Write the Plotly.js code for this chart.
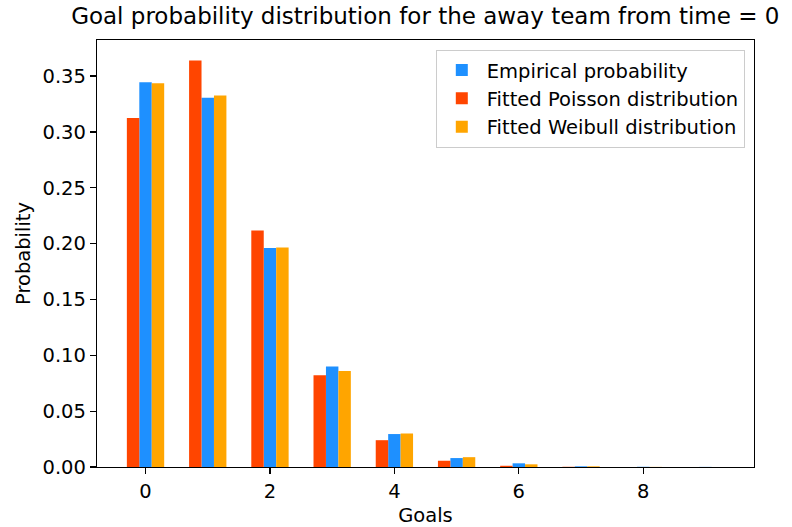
<!DOCTYPE html>
<html>
<head>
<meta charset="utf-8">
<script src="https://cdn.plot.ly/plotly-3.0.1.min.js"></script>
<style>
  html, body { margin: 0; padding: 0; background: #ffffff; }
  #chart { width: 792px; height: 527px; }
</style>
</head>
<body>
<div id="chart"></div>
<script>
// Number of goals scored by the away team
const goals = [0, 1, 2, 3, 4, 5, 6, 7, 8, 9];

// Observed frequency of each goal count
const empirical = [0.3445, 0.3305, 0.1960, 0.0900, 0.0295, 0.0080, 0.0033, 0.0006, 0.0002, 0.0001];

// Poisson model fitted to the same data
const poisson = [0.3124, 0.3640, 0.2118, 0.0822, 0.0240, 0.0056, 0.0011, 0.0002, 0.0000, 0.0000];

// Weibull count model fitted to the same data
const weibull = [0.3435, 0.3325, 0.1965, 0.0860, 0.0300, 0.0088, 0.0024, 0.0006, 0.0001, 0.0000];

const yTicks = [0, 0.05, 0.10, 0.15, 0.20, 0.25, 0.30, 0.35];
const xTicks = [0, 2, 4, 6, 8];

const font = "DejaVu Sans, Verdana, sans-serif";

function barTrace(name, values, color, offset) {
  return {
    type: "bar",
    name: name,
    x: goals,
    y: values,
    width: 0.2,
    offset: offset,
    marker: { color: color, line: { width: 0 } },
    hoverinfo: "x+y+name"
  };
}

const data = [
  barTrace("Empirical probability", empirical, "#1e90ff", -0.1),
  barTrace("Fitted Poisson distribution", poisson, "#ff4500", -0.3),
  barTrace("Fitted Weibull distribution", weibull, "#ffa500", 0.1)
];

const axisFont = { family: font, size: 19.5, color: "#000000" };

const layout = {
  width: 792,
  height: 527,
  margin: { l: 97, r: 38, t: 40, b: 60 },
  paper_bgcolor: "#ffffff",
  plot_bgcolor: "#ffffff",
  barmode: "overlay",
  font: axisFont,
  title: {
    text: "Goal probability distribution for the away team from time = 0",
    font: { family: font, size: 23, color: "#000000" },
    x: 0.537,
    xanchor: "center",
    y: 0.985,
    yanchor: "top"
  },
  xaxis: {
    range: [-0.78, 9.78],
    tickmode: "array",
    tickvals: xTicks,
    ticktext: xTicks.map(String),
    ticks: "outside",
    ticklen: 6,
    tickwidth: 1.2,
    tickcolor: "#000000",
    showgrid: false,
    zeroline: false,
    showline: true,
    linecolor: "#000000",
    linewidth: 1.2,
    mirror: true,
    tickfont: axisFont,
    title: { text: "Goals", font: axisFont, standoff: 6 }
  },
  yaxis: {
    range: [0, 0.3823],
    tickmode: "array",
    tickvals: yTicks,
    ticktext: yTicks.map(v => v.toFixed(2)),
    ticks: "outside",
    ticklen: 6,
    tickwidth: 1.2,
    tickcolor: "#000000",
    showgrid: false,
    zeroline: false,
    showline: true,
    linecolor: "#000000",
    linewidth: 1.2,
    mirror: true,
    tickfont: axisFont,
    title: { text: "Probability", font: axisFont, standoff: 6 }
  },
  legend: {
    x: 0.986,
    xanchor: "right",
    y: 0.977,
    yanchor: "top",
    bgcolor: "rgba(255,255,255,0.8)",
    bordercolor: "#cccccc",
    borderwidth: 1,
    font: axisFont,
    traceorder: "normal",
    itemwidth: 40,
    tracegroupgap: 0
  },
  showlegend: true
};

Plotly.newPlot("chart", data, layout, { displayModeBar: false, staticPlot: true });
</script>
</body>
</html>
